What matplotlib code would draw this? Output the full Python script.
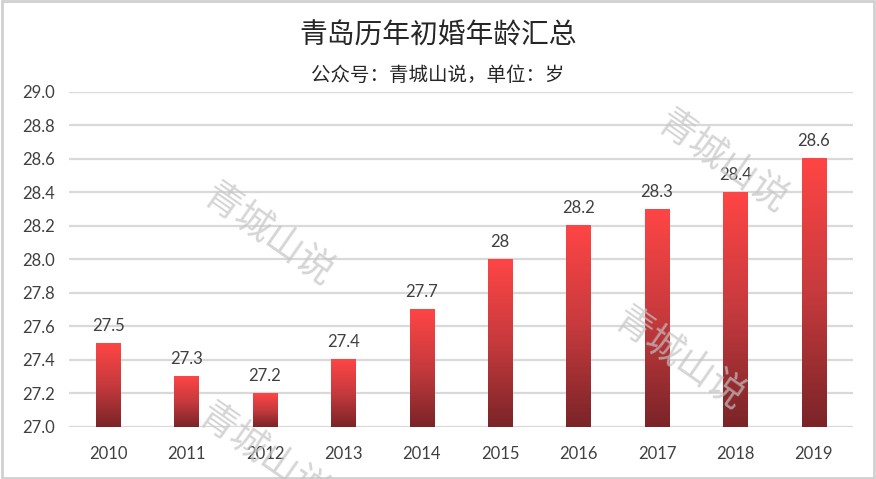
import numpy as np
import matplotlib.pyplot as plt
from matplotlib.colors import LinearSegmentedColormap
from matplotlib.patches import Rectangle

# --------------------------------------------------
# DATA
# --------------------------------------------------
years = ["2010", "2011", "2012", "2013", "2014", "2015", "2016", "2017", "2018", "2019"]
ages = [27.5, 27.3, 27.2, 27.4, 27.7, 28.0, 28.2, 28.3, 28.4, 28.6]
age_labels = ["27.5", "27.3", "27.2", "27.4", "27.7", "28", "28.2", "28.3", "28.4", "28.6"]

TITLE = "青岛历年初婚年龄汇总"
SUBTITLE = "公众号：青城山说，单位：岁"
WATERMARK = "青城山说"

plt.rcParams['font.family'] = ['Lato', 'Noto Sans CJK SC', 'DejaVu Sans']

TEXT_COLOR = "#404040"
GRID_COLOR = "#d9d9d9"
YMIN, YMAX = 27.0, 29.0

# vertical red gradient, dark at bottom, bright at top
grad_cmap = LinearSegmentedColormap.from_list("bar_red", ["#7a2428", "#c63a3d", "#ff4545"])

fig = plt.figure(figsize=(8.76, 4.79), dpi=100)
ax = fig.add_axes([0.0788, 0.1086, 0.8949, 0.6994])

x = np.arange(len(years))
bar_w = 0.31

ax.set_xlim(-0.5, len(years) - 0.5)
ax.set_ylim(YMIN, YMAX)

grad = np.linspace(0, 1, 256).reshape(-1, 1)
for xi, val, lab in zip(x, ages, age_labels):
    ax.imshow(grad, extent=[xi - bar_w / 2, xi + bar_w / 2, YMIN, val],
              origin="lower", cmap=grad_cmap, aspect="auto", zorder=2)
    ax.annotate(lab, (xi, val), xytext=(0, 7), textcoords="offset points",
                ha="center", va="bottom", fontsize=12, color=TEXT_COLOR, zorder=4)

ax.set_xticks(x)
ax.set_xticklabels(years)
ax.set_yticks(np.arange(27.0, 29.01, 0.2))
ax.set_yticklabels([f"{v:.1f}" for v in np.arange(27.0, 29.01, 0.2)])
ax.tick_params(axis="both", length=0, labelsize=12, colors=TEXT_COLOR)
ax.tick_params(axis="x", pad=14)
ax.tick_params(axis="y", pad=10)

ax.grid(axis="y", color=GRID_COLOR, linewidth=1.6, zorder=0)
ax.set_axisbelow(True)
for s in ax.spines.values():
    s.set_visible(False)

# titles
fig.text(0.5, 0.925, TITLE, ha="center", va="center", fontsize=20,
         family=['Noto Sans CJK SC'], color="#262626", weight="medium")
fig.text(0.5, 0.842, SUBTITLE, ha="center", va="center", fontsize=14,
         family=['Noto Sans CJK SC'], color="#262626")

# watermarks
wm_pos = [(0.306, 0.508), (0.775, 0.25), (0.825, 0.66), (0.3, 0.05)]
for wx, wy in wm_pos:
    fig.text(wx, wy, WATERMARK, ha="center", va="center", fontsize=27,
             family=['Noto Sans CJK SC'], weight="light", color="#c4c4c4",
             alpha=0.7, rotation=-35, zorder=10)

# outer border
fig.patches.append(Rectangle((0.002, 0.003), 0.996, 0.994, transform=fig.transFigure,
                             fill=False, edgecolor="#d0d0d0", linewidth=2))

fig.savefig("out.png", dpi=100)
